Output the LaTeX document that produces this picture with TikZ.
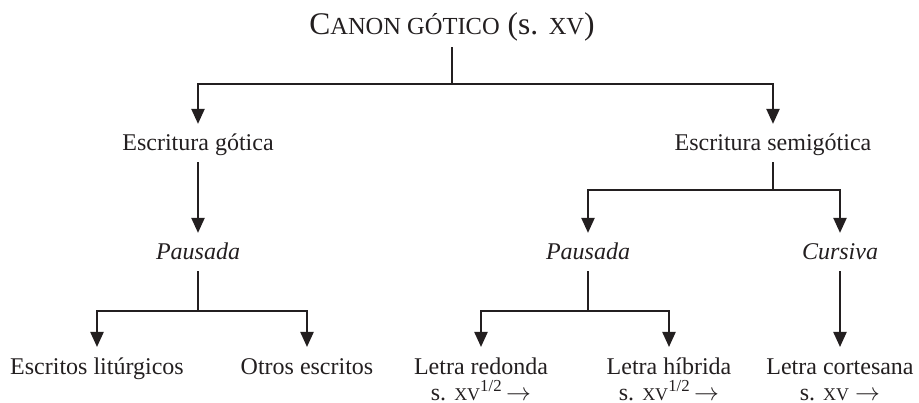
\documentclass[tikz,border=0pt]{standalone}
\usepackage{fontspec}
\setmainfont{Liberation Serif}
\usetikzlibrary{arrows.meta, positioning}
\definecolor{ink}{HTML}{231F20}
\newcommand{\fakesc}[2][24.5]{{\fontsize{#1}{#1}\selectfont #2}}

\begin{document}
\begin{tikzpicture}[x=1pt, y=-1pt, ink, line width=2.2pt, >={Triangle[length=15pt,width=13pt]},
    lbl/.style={font=\fontsize{24}{27}\selectfont, text height=20pt, text depth=4pt, inner ysep=6pt, inner xsep=0pt},
    leaf/.style={lbl, anchor=north},
    date/.style={font=\fontsize{24}{27}\selectfont, text height=13pt, text depth=0pt, inner sep=0pt}]
\useasboundingbox (0,0) rectangle (919,403);
\node[font=\fontsize{31.5}{36}\selectfont, anchor=base, text depth=7pt, inner ysep=4pt] (canon) at (452,35)
    {C\fakesc{ANON GÓTICO} (s. \fakesc{XV})};
\node[lbl, anchor=base] (gotica) at (198,151) {Escritura gótica};
\node[lbl, anchor=base] (semigotica) at (773,151) {Escritura semigótica};
\node[lbl, anchor=base] (pausadaA) at (198,260) {\textit{Pausada}};
\node[lbl, anchor=base] (pausadaB) at (588,260) {\textit{Pausada}};
\node[lbl, anchor=base] (cursiva) at (840,260) {\textit{Cursiva}};
\node[leaf] (liturgicos) at (97,347) {Escritos litúrgicos};
\node[leaf] (otros) at (307,347) {Otros escritos};
\node[leaf] (redonda) at (481,347) {Letra redonda};
\node[leaf] (hibrida) at (669,347) {Letra híbrida};
\node[leaf] (cortesana) at (840,347) {Letra cortesana};
\node[date, below=1pt of redonda] (dateA) {s. \fakesc[18]{XV}\textsuperscript{1/2}\,$\rightarrow$};
\node[date, below=1pt of hibrida] (dateB) {s. \fakesc[18]{XV}\textsuperscript{1/2}\,$\rightarrow$};
\node[date, below=1pt of cortesana] (dateC) {s. \fakesc[18]{XV} $\rightarrow$};

\coordinate (j0) at (canon.south |- 0,84);
\coordinate (j1) at (semigotica.south |- 0,190);
\draw (canon.south) -- (j0);
\draw[->] (j0) -| (gotica.north);
\draw[->] (j0) -| (semigotica.north);
\draw[->] (gotica.south) -- (pausadaA.north);
\draw (semigotica.south) -- (j1);
\draw[->] (j1) -| (pausadaB.north);
\draw[->] (j1) -| (cursiva.north);
\draw[->] (cursiva.south) -- (cortesana.north);
\foreach \a in {pausadaA, pausadaB}
{
    \draw (\a.south) -- (\a.south |- 0,311);
}
\foreach \a/\b in {pausadaA/liturgicos, pausadaA/otros, pausadaB/redonda, pausadaB/hibrida}
{
    \draw[->] (\a.south |- 0,311) -| (\b.north);
}
\end{tikzpicture}
\end{document}
